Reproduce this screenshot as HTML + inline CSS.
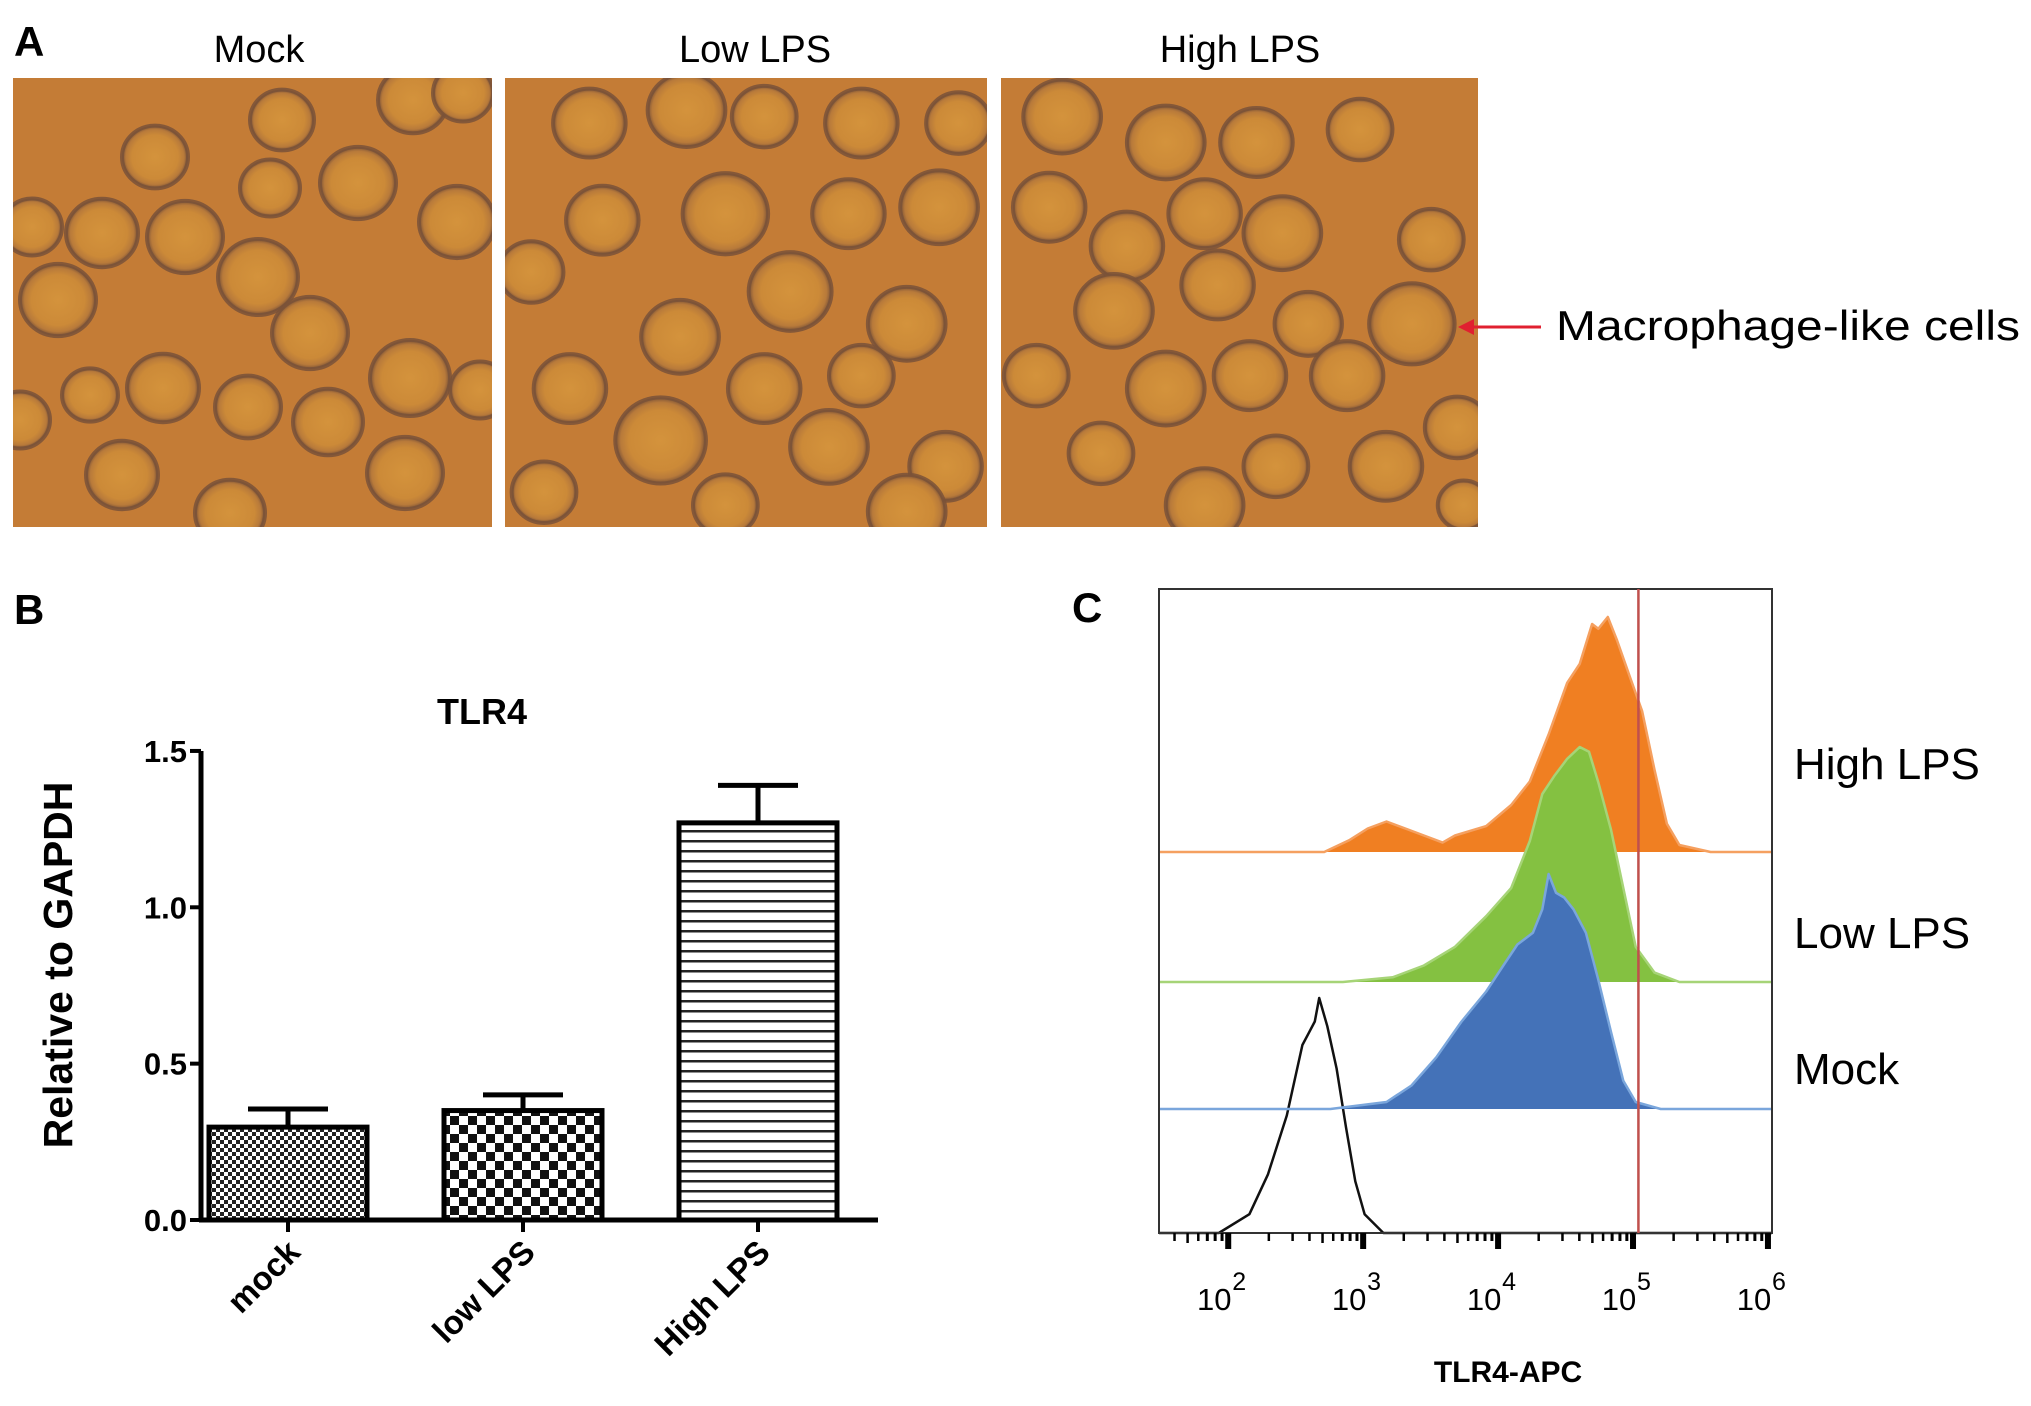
<!DOCTYPE html>
<html><head><meta charset="utf-8"><style>
html,body{margin:0;padding:0;background:#fff;}
svg{display:block;font-family:"Liberation Sans",sans-serif;}
</style></head><body>
<svg id="fig" width="2031" height="1406" viewBox="0 0 2031 1406" xmlns="http://www.w3.org/2000/svg">
<defs>
<pattern id="pMock" width="8" height="8" patternUnits="userSpaceOnUse"><rect width="8" height="8" fill="#fff"/><rect width="4" height="4" fill="#222"/><rect x="4" y="4" width="4" height="4" fill="#222"/></pattern>
<pattern id="pLow" width="18" height="18" patternUnits="userSpaceOnUse"><rect width="18" height="18" fill="#fff"/><rect width="9" height="9" fill="#111"/><rect x="9" y="9" width="9" height="9" fill="#111"/></pattern>
<pattern id="pHigh" width="10" height="10" patternUnits="userSpaceOnUse"><rect width="10" height="10" fill="#fff"/><rect y="0" width="10" height="2.5" fill="#222"/></pattern>
<radialGradient id="cellG"><stop offset="0" stop-color="#d4933c"/><stop offset="0.7" stop-color="#cc8a38"/><stop offset="0.88" stop-color="#b87a3a"/><stop offset="1" stop-color="#7a5238"/></radialGradient>
<clipPath id="c0"><rect x="13" y="78" width="479" height="449"/></clipPath>
<clipPath id="c1"><rect x="505" y="78" width="482" height="449"/></clipPath>
<clipPath id="c2"><rect x="1001" y="78" width="477" height="449"/></clipPath>
</defs>

<!-- Panel A -->
<text x="14" y="56" font-size="42" font-weight="bold">A</text>
<text x="259" y="62" font-size="38" text-anchor="middle">Mock</text>
<text x="755" y="62" font-size="38" text-anchor="middle">Low LPS</text>
<text x="1240" y="62" font-size="38" text-anchor="middle">High LPS</text>
<g id="imgs"></g>
<line x1="1541" y1="327" x2="1470" y2="327" stroke="#e02030" stroke-width="3"/>
<polygon points="1458,327 1474,319 1474,335" fill="#e02030"/>
<text x="1556" y="340" font-size="42" textLength="464" lengthAdjust="spacingAndGlyphs">Macrophage-like cells</text>

<!-- Panel B -->
<text x="14" y="624" font-size="42" font-weight="bold">B</text>
<text x="482" y="724" font-size="36" font-weight="bold" text-anchor="middle">TLR4</text>
<text transform="translate(72,965) rotate(-90)" font-size="41" font-weight="bold" text-anchor="middle">Relative to GAPDH</text>
<g id="barChart"></g>

<!-- Panel C -->
<text x="1072" y="622" font-size="42" font-weight="bold">C</text>
<g id="flow"></g>
<text x="1508" y="1382" font-size="30" font-weight="bold" text-anchor="middle">TLR4-APC</text>
<text x="1794" y="779" font-size="44">High LPS</text>
<text x="1794" y="948" font-size="44">Low LPS</text>
<text x="1794" y="1084" font-size="44">Mock</text>
</svg>
<script>
const NS="http://www.w3.org/2000/svg";
function mk(tag,attrs,parent){const e=document.createElementNS(NS,tag);for(const k in attrs)e.setAttribute(k,attrs[k]);parent.appendChild(e);return e;}

/* ---------- Panel A micrographs ---------- */
const S=1.2953;
const panelRects=[[13,78,479,449],[505,78,482,449],[1001,78,477,449]];
const mockCells=[[155,157,33],[282,120,32],[270,188,30],[358,183,38],[413,100,35],[463,93,30],[457,222,38],[102,233,36],[185,237,38],[32,227,30],[58,300,38],[258,277,40],[310,333,38],[90,395,28],[163,388,36],[248,407,33],[328,422,35],[410,378,40],[405,473,38],[122,475,36],[230,513,35],[480,390,30],[20,420,30]];
const lowD=[[455,95,28],[530,85,30],[590,90,25],[665,95,28],[740,95,25],[465,170,28],[560,165,33],[655,165,28],[725,160,30],[410,210,25],[610,225,32],[525,260,30],[700,250,30],[440,300,28],[590,300,28],[665,290,25],[510,340,35],[640,345,30],[730,360,28],[420,380,25],[560,390,25],[700,395,30]];
const highD=[[820,90,30],[900,110,30],[970,110,28],[1050,100,25],[810,160,28],[870,190,28],[930,165,28],[990,180,30],[1105,185,25],[860,240,30],[940,220,28],[1010,250,26],[1090,250,33],[800,290,25],[900,300,30],[965,290,28],[1040,290,28],[1125,330,25],[850,350,25],[985,360,25],[1070,360,28],[930,390,30],[1130,390,20]];
const cellSets=[mockCells,lowD.map(c=>[c[0]*S,c[1]*S,c[2]*S]),highD.map(c=>[c[0]*S,c[1]*S,c[2]*S])];
const imgs=document.getElementById('imgs');
const imgNames=['mock-micrograph','low-lps-micrograph','high-lps-micrograph'];
panelRects.forEach((r,i)=>{
  const g=mk('g',{'clip-path':'url(#c'+i+')'},imgs);
  
  
  const bg=mk('rect',{x:r[0],y:r[1],width:r[2],height:r[3],fill:'#c47c36'},g);
  
  
  cellSets[i].forEach((c,j)=>{
    const e=mk('ellipse',{cx:c[0],cy:c[1],rx:c[2],ry:c[2]*0.95,fill:'url(#cellG)',stroke:'#7a5238','stroke-width':4,'stroke-opacity':0.85},g);
    
    
  });
});

/* ---------- Panel B bar chart ---------- */
const categories=['mock','low LPS','High LPS'];
const barValues=[0.297,0.35,1.27];
const errValues=[0.355,0.40,1.39];
const yTicks=[0.0,0.5,1.0,1.5];
const yTickLabels=['0.0','0.5','1.0','1.5'];
const patterns=['url(#pMock)','url(#pLow)','url(#pHigh)'];
const bc=document.getElementById('barChart');
const X0=201,X1=878,Y0=1220,PX=312.7;
const yB=v=>Y0-v*PX;
const xB=i=>288+i*235;
const BW=158;
mk('line',{x1:X0,y1:yB(1.5),x2:X0,y2:Y0+2,stroke:'#000','stroke-width':5},bc);
mk('line',{x1:X0-2,y1:Y0,x2:X1,y2:Y0,stroke:'#000','stroke-width':5},bc);
yTicks.forEach((t,i)=>{
  const l=mk('line',{x1:X0-11,y1:yB(t),x2:X0,y2:yB(t),stroke:'#000','stroke-width':4},bc);
  
  
  const tx=mk('text',{x:X0-14,y:yB(t)+11,'font-size':31,'font-weight':'bold','text-anchor':'end'},bc);
  tx.textContent=yTickLabels[i];
  
  
});
categories.forEach((c,i)=>{
  const cx=xB(i);
  const b=mk('rect',{x:cx-BW/2,y:yB(barValues[i]),width:BW,height:Y0-yB(barValues[i]),fill:patterns[i],stroke:'#000','stroke-width':5},bc);
  
  
  const e=mk('line',{x1:cx,y1:yB(barValues[i]),x2:cx,y2:yB(errValues[i]),stroke:'#000','stroke-width':5},bc);
  
  
  const cap=mk('line',{x1:cx-40,y1:yB(errValues[i]),x2:cx+40,y2:yB(errValues[i]),stroke:'#000','stroke-width':5},bc);
  
  
  const tk=mk('line',{x1:cx,y1:Y0,x2:cx,y2:Y0+12,stroke:'#000','stroke-width':4},bc);
  
  
  const t=mk('text',{transform:'translate('+(cx+14)+','+(Y0+34)+') rotate(-45)','font-size':33,'font-weight':'bold','text-anchor':'end'},bc);
  t.textContent=c;
  
  
});

/* ---------- Panel C flow histograms ---------- */
const blackLog=[1.93,2.157,2.295,2.434,2.55,2.596,2.642,2.674,2.734,2.803,2.873,2.942,3.011,3.15];
const blackCnt=[0,8,25,50,80,85,90,100,88,70,45,22,8,0];
const blueLog=[2.757,3.173,3.358,3.542,3.727,3.912,4.05,4.143,4.258,4.328,4.374,4.429,4.489,4.559,4.651,4.743,4.836,4.928,5.02,5.205];
const blueCnt=[0,3,10,22,37,50,62,70,75,85,100,92,90,85,75,55,33,12,3,0];
const greenLog=[2.85,3.219,3.45,3.681,3.912,4.097,4.235,4.328,4.42,4.512,4.605,4.674,4.743,4.836,4.928,5.02,5.159,5.344];
const greenCnt=[0,2,7,15,28,40,60,80,88,95,100,98,85,65,40,15,4,0];
const orangeLog=[2.711,2.896,3.034,3.173,3.312,3.45,3.589,3.681,3.912,4.097,4.235,4.374,4.512,4.605,4.697,4.743,4.813,4.882,4.974,5.067,5.159,5.251,5.344,5.575];
const orangeCnt=[0,5,10,13,10,7,4,7,11,20,30,50,72,80,97,95,100,90,75,60,35,12,3,0];
const decades=[2,3,4,5,6];
const decadeLabels=['10','10','10','10','10'];
const decadeExp=['2','3','4','5','6'];
const gateLog=5.04;
const BX0=1159,BX1=1772,BY0=589,BY1=1233;
const LMIN=1.487,LMAX=6.03;
const xF=l=>BX0+(l-LMIN)/(LMAX-LMIN)*(BX1-BX0);
const HPX=2.35;
const fl=document.getElementById('flow');
function hist(logs,cnts,base,fill,stroke,name){
  let d='M'+BX0+','+base+' L'+xF(logs[0])+','+base;
  logs.forEach((l,i)=>{d+=' L'+xF(l).toFixed(1)+','+(base-cnts[i]*HPX).toFixed(1);});
  d+=' L'+BX1+','+base;
  const p=mk('path',{d:d,fill:fill,stroke:stroke,'stroke-width':2.5,'stroke-linejoin':'round'},fl);
  
  
}
hist(blackLog,blackCnt,BY1,'none','#111','histogram-isotype');
hist(orangeLog,orangeCnt,852,'#f07f22','#f5a060','histogram-high-lps');
hist(greenLog,greenCnt,982,'#84c141','#a6d477','histogram-low-lps');
hist(blueLog,blueCnt,1109,'#4472b8','#7aa6dc','histogram-mock');
const box=mk('rect',{x:BX0,y:BY0,width:BX1-BX0,height:BY1-BY0,fill:'none',stroke:'#333','stroke-width':2},fl);


const gate=mk('line',{x1:xF(gateLog),y1:BY0,x2:xF(gateLog),y2:BY1,stroke:'#c0504d','stroke-width':2.5},fl);


decades.forEach((dv,i)=>{
  const x=xF(dv);
  const t=mk('rect',{x:x-3,y:BY1,width:6,height:16,fill:'#000'},fl);
  
  
  const tx=mk('text',{x:x-14,y:1310,'font-size':31,'text-anchor':'middle'},fl);
  tx.textContent=decadeLabels[i];
  
  
  const ex=mk('text',{x:x+4,y:1290,'font-size':25},fl);
  ex.textContent=decadeExp[i];
  
  
});
for(let dec=1;dec<=5;dec++){
  for(let m=2;m<=9;m++){
    const l=dec+Math.log10(m);
    if(l<LMIN||l>LMAX)continue;
    const x=xF(l);
    const t=mk('line',{x1:x,y1:BY1,x2:x,y2:BY1+(m===5?10:8),stroke:'#000','stroke-width':m>=7?3:2.5},fl);
    
    
  }
}
</script>
</body></html>
